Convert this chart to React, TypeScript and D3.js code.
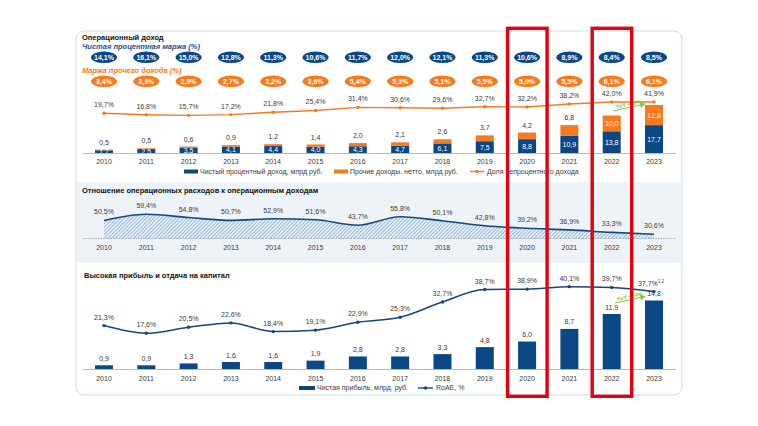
import React from "react";
import * as d3 from "d3";

const years = [2010, 2011, 2012, 2013, 2014, 2015, 2016, 2017, 2018, 2019, 2020, 2021, 2022, 2023];
const niiMargin = [14.1, 16.1, 15.0, 12.8, 11.3, 10.6, 11.7, 12.0, 12.1, 11.3, 10.6, 8.9, 8.4, 8.5];
const otherMargin = [3.4, 3.3, 2.8, 2.7, 3.2, 3.6, 5.4, 5.3, 5.1, 5.5, 5.0, 5.5, 6.1, 6.1];
const nonInterestShare = [19.7, 16.8, 15.7, 17.2, 21.8, 25.4, 31.4, 30.6, 29.6, 32.7, 32.2, 38.2, 42.0, 41.9];
const netInterestIncome = [1.7, 2.5, 3.5, 4.1, 4.4, 4.0, 4.3, 4.7, 6.1, 7.5, 8.8, 10.9, 13.8, 17.7];
const otherIncome = [0.5, 0.5, 0.6, 0.9, 1.2, 1.4, 2.0, 2.1, 2.6, 3.7, 4.2, 6.8, 10.0, 12.8];
const costIncome = [50.5, 59.4, 54.8, 50.7, 52.9, 51.6, 43.7, 55.8, 50.1, 42.8, 39.2, 36.9, 33.3, 30.6];
const netProfit = [0.9, 0.9, 1.3, 1.6, 1.6, 1.9, 2.8, 2.8, 3.3, 4.8, 6.0, 8.7, 11.9, 14.8];
const roae = [21.3, 17.6, 20.5, 22.6, 18.4, 19.1, 22.9, 25.3, 32.7, 38.7, 38.9, 40.1, 39.7, 37.7];
const highlightYears = [2020, 2022];
const yoyTop = "YoY +28%";
const yoyBottom = "YoY +24%";

const BLUE = "#0b4785";
const ORANGE = "#f47b20";
const GREEN = "#8cc84b";
const FONT = "'Liberation Sans', Arial, sans-serif";
const TXT = "#3a3a3a";

const fmt = (v: number) => v.toFixed(1).replace(".", ",");

export default function App() {
  const x = d3.scalePoint<number>().domain(years).range([104, 654]);
  const bw = 18;

  // top section scales
  const yBarTop = d3.scaleLinear().domain([0, 30.5]).range([153, 105]);
  const yShare = d3.scaleLinear().domain([0, 45]).range([123.3, 100.5]);
  // middle
  const yRatio = d3.scaleLinear().domain([0, 60]).range([255.5, 213.9]);
  const midBase = 238.5;
  // bottom
  const yRoae = d3.scaleLinear().domain([0, 45]).range([369.7, 276.5]);
  const yProfit = d3.scaleLinear().domain([0, 14.8]).range([369.5, 300.5]);

  const shareLine = d3
    .line<number>()
    .x((_, i) => x(years[i])!)
    .y((d) => yShare(d));

  const ratioLine = d3
    .line<number>()
    .x((_, i) => x(years[i])!)
    .y((d) => yRatio(d))
    .curve(d3.curveMonotoneX);
  const ratioArea = d3
    .area<number>()
    .x((_, i) => x(years[i])!)
    .y0(midBase)
    .y1((d) => yRatio(d))
    .curve(d3.curveMonotoneX);

  const roaeLine = d3
    .line<number>()
    .x((_, i) => x(years[i])!)
    .y((d) => yRoae(d))
    .curve(d3.curveMonotoneX);

  const yearLabels = (y: number) =>
    years.map((yr) => (
      <text key={"yl" + y + yr} x={x(yr)} y={y} textAnchor="middle" fontSize={7} fill={TXT}>
        {yr}
      </text>
    ));

  const arrow = (x1: number, y1: number, x2: number, y2: number, label: string, key: string) => {
    const ang = (Math.atan2(y2 - y1, x2 - x1) * 180) / Math.PI;
    const mx = (x1 + x2) / 2;
    const my = (y1 + y2) / 2;
    return (
      <g key={key}>
        <line x1={x1} y1={y1} x2={x2} y2={y2} stroke={GREEN} strokeWidth={1.2} markerEnd="url(#arrowG)" />
        <text
          x={mx}
          y={my - 1.5}
          transform={`rotate(${ang},${mx},${my - 1.5})`}
          textAnchor="middle"
          fontSize={5.5}
          fontWeight="bold"
          fill={GREEN}
        >
          {label}
        </text>
      </g>
    );
  };

  return (
    <svg
      width={758}
      height={426}
      style={{ position: "absolute", left: 0, top: 0, display: "block", background: "#fff" }}
      fontFamily={FONT}
    >
      <defs>
        <pattern id="hatch" width="2.6" height="2.6" patternUnits="userSpaceOnUse" patternTransform="rotate(45)">
          <rect width="2.6" height="2.6" fill="#e3edf6" />
          <line x1="0" y1="0" x2="0" y2="2.6" stroke="#5f92c2" strokeWidth="1" />
        </pattern>
        <marker id="arrowG" viewBox="0 0 6 6" refX="5" refY="3" markerWidth="5" markerHeight="5" orient="auto">
          <path d="M0,0 L6,3 L0,6 z" fill={GREEN} />
        </marker>
      </defs>

      {/* panel */}
      <rect x={76} y={31} width={606} height={364} rx={8} fill="#fff" stroke="#c9def0" strokeWidth={1} />
      <rect x={76.5} y={182} width={605} height={81} fill="#eef3f8" />

      {/* ===== TOP SECTION ===== */}
      <text x={82} y={39.5} fontSize={7.5} fontWeight="bold" fill="#111">
        Операционный доход
      </text>
      <text x={82} y={48.5} fontSize={7.5} fontWeight="bold" fontStyle="italic" fill="#1f4f8f">
        Чистая процентная маржа (%)
      </text>
      <text x={82} y={72.5} fontSize={7.5} fontWeight="bold" fontStyle="italic" fill={ORANGE}>
        Маржа прочего дохода (%)
      </text>

      {years.map((yr, i) => (
        <g key={"nim" + yr}>
          <ellipse cx={x(yr)} cy={57.3} rx={13} ry={5.8} fill={BLUE} />
          <text x={x(yr)} y={59.9} textAnchor="middle" fontSize={7} fontWeight="bold" fill="#fff">
            {fmt(niiMargin[i])}%
          </text>
          <ellipse cx={x(yr)} cy={81.3} rx={13} ry={5.8} fill={ORANGE} />
          <text x={x(yr)} y={83.9} textAnchor="middle" fontSize={7} fontWeight="bold" fill="#fff">
            {fmt(otherMargin[i])}%
          </text>
        </g>
      ))}

      {/* stacked bars */}
      {years.map((yr, i) => {
        const b = netInterestIncome[i];
        const o = otherIncome[i];
        const yB = yBarTop(b);
        const yT = yBarTop(b + o);
        const cx = x(yr)!;
        const inside = o >= 10;
        return (
          <g key={"bar" + yr}>
            <rect x={cx - bw / 2} y={yB} width={bw} height={yBarTop(0) - yB} fill={BLUE} />
            <rect x={cx - bw / 2} y={yT} width={bw} height={yB - yT} fill={ORANGE} />
            <text x={cx} y={(yB + yBarTop(0)) / 2 + 2.5} textAnchor="middle" fontSize={7} fill="#fff">
              {fmt(b)}
            </text>
            {inside ? (
              <text x={cx} y={(yB + yT) / 2 + 2.5} textAnchor="middle" fontSize={7} fill="#fff">
                {fmt(o)}
              </text>
            ) : (
              <text x={cx} y={yT - 5} textAnchor="middle" fontSize={7} fill={TXT}>
                {fmt(o)}
              </text>
            )}
          </g>
        );
      })}
      <line x1={83} x2={676} y1={153.5} y2={153.5} stroke="#b8b8b8" strokeWidth={1} />

      {/* share line */}
      <path d={shareLine(nonInterestShare)!} fill="none" stroke={ORANGE} strokeWidth={1.4} />
      {nonInterestShare.map((v, i) => (
        <g key={"sh" + i}>
          <circle cx={x(years[i])} cy={yShare(v)} r={1.7} fill={ORANGE} />
          <text x={x(years[i])} y={yShare(v) - 6} textAnchor="middle" fontSize={7} fill={TXT}>
            {fmt(v)}%
          </text>
        </g>
      ))}
      {arrow(613, 111, 645, 104, yoyTop, "yoyT")}

      {yearLabels(163.5)}

      {/* top legend */}
      <rect x={184} y={169.5} width={14} height={4} fill={BLUE} />
      <text x={200} y={173.5} fontSize={7} fill={TXT}>
        Чистый процентный доход, млрд руб.
      </text>
      <rect x={334} y={169.5} width={14} height={4} fill={ORANGE} />
      <text x={350} y={173.5} fontSize={7} fill={TXT}>
        Прочие доходы, нетто, млрд руб.
      </text>
      <line x1={470} x2={484} y1={171.5} y2={171.5} stroke={ORANGE} strokeWidth={1.4} />
      <circle cx={477} cy={171.5} r={1.7} fill={ORANGE} />
      <text x={487} y={173.5} fontSize={7} fill={TXT}>
        Доля непроцентного дохода
      </text>

      {/* ===== MIDDLE SECTION ===== */}
      <text x={82} y={192.5} fontSize={7.5} fontWeight="bold" fill="#111">
        Отношение операционных расходов к операционным доходам
      </text>
      <path d={ratioArea(costIncome)!} fill="url(#hatch)" />
      <path d={ratioLine(costIncome)!} fill="none" stroke="#16467d" strokeWidth={1.6} />
      <line x1={83} x2={676} y1={midBase} y2={midBase} stroke="#9a9a9a" strokeWidth={0.8} strokeDasharray="1.5,1" />
      {costIncome.map((v, i) => (
        <text key={"ci" + i} x={x(years[i])} y={yRatio(v) - 6} textAnchor="middle" fontSize={7} fill={TXT}>
          {fmt(v)}%
        </text>
      ))}
      {yearLabels(249.5)}

      {/* ===== BOTTOM SECTION ===== */}
      <text x={84} y={277.5} fontSize={7.5} fontWeight="bold" fill="#111">
        Высокая прибыль и отдача на капитал
      </text>
      {years.map((yr, i) => {
        const cx = x(yr)!;
        const yt = yProfit(netProfit[i]);
        return (
          <g key={"np" + yr}>
            <rect x={cx - bw / 2} y={yt} width={bw} height={yProfit(0) - yt} fill={BLUE} />
            <text x={cx} y={yt - 4.5} textAnchor="middle" fontSize={7} fill={TXT}>
              {fmt(netProfit[i])}
            </text>
          </g>
        );
      })}
      <line x1={83} x2={676} y1={369.5} y2={369.5} stroke="#b8b8b8" strokeWidth={1} />
      <path d={roaeLine(roae)!} fill="none" stroke="#16467d" strokeWidth={1.5} />
      {roae.map((v, i) => (
        <g key={"ro" + i}>
          <circle cx={x(years[i])} cy={yRoae(v)} r={1.7} fill="#16467d" />
          <text
            x={x(years[i])! + (i === roae.length - 1 ? -3 : 0)}
            y={yRoae(v) - 6}
            textAnchor="middle"
            fontSize={7}
            fill={TXT}
          >
            {fmt(v)}%
            {i === roae.length - 1 ? (
              <tspan fontSize={4.5} dy={-3}>
                1,2
              </tspan>
            ) : null}
          </text>
        </g>
      ))}
      {arrow(615, 303, 645, 296.5, yoyBottom, "yoyB")}
      {yearLabels(380.5)}

      {/* bottom legend */}
      <rect x={299} y={386} width={16} height={4} fill={BLUE} />
      <text x={317} y={390} fontSize={7} fill={TXT}>
        Чистая прибыль, млрд. руб.
      </text>
      <line x1={418} x2={433} y1={388} y2={388} stroke="#16467d" strokeWidth={1.4} />
      <circle cx={425.5} cy={388} r={1.7} fill="#16467d" />
      <text x={436} y={390} fontSize={7} fill={TXT}>
        RoAE, %
      </text>

      {/* highlight frames */}
      {highlightYears.map((yr) => (
        <rect
          key={"hl" + yr}
          x={x(yr)! - 19.5}
          y={28.3}
          width={39.5}
          height={368}
          fill="none"
          stroke="#e3000f"
          strokeWidth={3.4}
        />
      ))}
    </svg>
  );
}
